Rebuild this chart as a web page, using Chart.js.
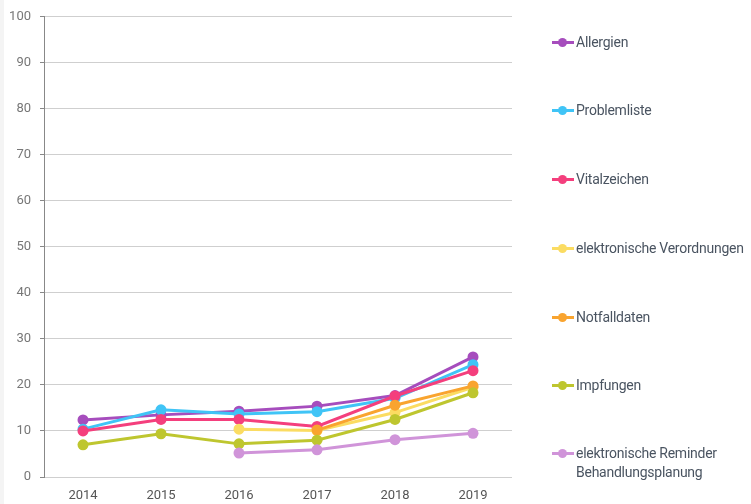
<!DOCTYPE html>
<html>
<head>
<meta charset="utf-8">
<script src="https://cdn.jsdelivr.net/npm/chart.js@4"></script>
<style>
  html, body { margin: 0; padding: 0; background: #fff; }
  body { width: 751px; height: 504px; position: relative; overflow: hidden; font-family: Roboto, "Noto Sans", sans-serif; }
  #strip { position: absolute; left: 0; top: 0; width: 4px; height: 504px; background: #f4f4f4; }
  #wrap { position: absolute; left: 0; top: 0; width: 751px; height: 504px; }
  #legend { position: absolute; left: 552px; top: 0; width: 199px; }
  .item { position: absolute; left: 0; display: flex; align-items: flex-start; }
  .mark { position: relative; width: 22px; height: 18px; flex: none; }
  .mark .ln { position: absolute; left: 0; top: 8px; width: 22px; height: 3px; }
  .mark .dt { position: absolute; left: 6px; top: 5px; width: 9px; height: 9px; border-radius: 50%; }
  .lbl { font-size: 14px; color: #4a5461; line-height: 19px; margin-left: 2px; white-space: nowrap; letter-spacing: -0.25px; }
</style>
</head>
<body>
<div id="strip"></div>
<div id="wrap"><canvas id="c" width="751" height="504"></canvas></div>
<div id="legend"></div>
<script>
const years = ["2014", "2015", "2016", "2017", "2018", "2019"];
const yTicks = [0, 10, 20, 30, 40, 50, 60, 70, 80, 90, 100];

const seriesNames = [
  "Allergien",
  "Problemliste",
  "Vitalzeichen",
  "elektronische Verordnungen",
  "Notfalldaten",
  "Impfungen",
  ["elektronische Reminder", "Behandlungsplanung"]
];
const seriesColors = ["#a64dbd", "#40c4f6", "#f43f7d", "#fbdc62", "#f9a42f", "#bec62f", "#d094d9"];

const allergien      = [12.4, 13.5, 14.3, 15.4, 17.7, 26.1];
const problemliste   = [10.4, 14.6, 13.7, 14.2, 17.1, 24.4];
const vitalzeichen   = [10.0, 12.5, 12.5, 11.0, 17.6, 23.1];
const verordnungen   = [null, null, 10.4, 10.1, 14.0, 19.5];
const notfalldaten   = [null, null, null, 10.2, 15.6, 19.8];
const impfungen      = [7.0, 9.4, 7.2, 8.0, 12.5, 18.3];
const reminder       = [null, null, 5.2, 5.9, 8.1, 9.5];

const seriesValues = [allergien, problemliste, vitalzeichen, verordnungen, notfalldaten, impfungen, reminder];

const datasets = seriesValues.map((vals, i) => ({
  label: Array.isArray(seriesNames[i]) ? seriesNames[i].join(" ") : seriesNames[i],
  data: vals,
  borderColor: seriesColors[i],
  backgroundColor: seriesColors[i],
  pointBackgroundColor: seriesColors[i],
  pointBorderColor: seriesColors[i],
  borderWidth: 3,
  pointRadius: 5.5,
  pointBorderWidth: 0,
  tension: 0,
  fill: false,
  order: seriesValues.length - i
}));

new Chart(document.getElementById("c"), {
  type: "line",
  data: { labels: years, datasets },
  options: {
    responsive: false,
    animation: false,
    devicePixelRatio: 1,
    layout: { padding: { left: 0, right: 239, top: 11, bottom: 0 } },
    plugins: { legend: { display: false }, tooltip: { enabled: false } },
    scales: {
      x: {
        offset: true,
        afterFit: (scale) => { scale.height = 27; },
        grid: { display: false, drawTicks: false },
        border: { display: false },
        ticks: { color: "#555", font: { family: "Roboto", size: 13 }, padding: 11, maxRotation: 0 }
      },
      y: {
        min: 0, max: 100,
        afterBuildTicks: (scale) => { scale.ticks = yTicks.map(v => ({ value: v })); },
        afterFit: (scale) => { scale.width = 44; },
        grid: { color: "#cfcfcf", lineWidth: 1, tickLength: 4, tickColor: "#888" },
        border: { display: true, color: "#888", width: 1 },
        ticks: { color: "#777", font: { family: "Roboto", size: 13 }, padding: 9 }
      }
    }
  }
});

const legend = document.getElementById("legend");
const legendTop = [33, 101, 170, 239, 308, 376, 444];
seriesNames.forEach((name, i) => {
  const item = document.createElement("div");
  item.className = "item";
  item.style.top = legendTop[i] + "px";
  const mark = document.createElement("div");
  mark.className = "mark";
  mark.innerHTML = '<div class="ln" style="background:' + seriesColors[i] + '"></div><div class="dt" style="background:' + seriesColors[i] + '"></div>';
  const lbl = document.createElement("div");
  lbl.className = "lbl";
  lbl.innerHTML = Array.isArray(name) ? name.join("<br>") : name;
  item.appendChild(mark);
  item.appendChild(lbl);
  legend.appendChild(item);
});
</script>
</body>
</html>
